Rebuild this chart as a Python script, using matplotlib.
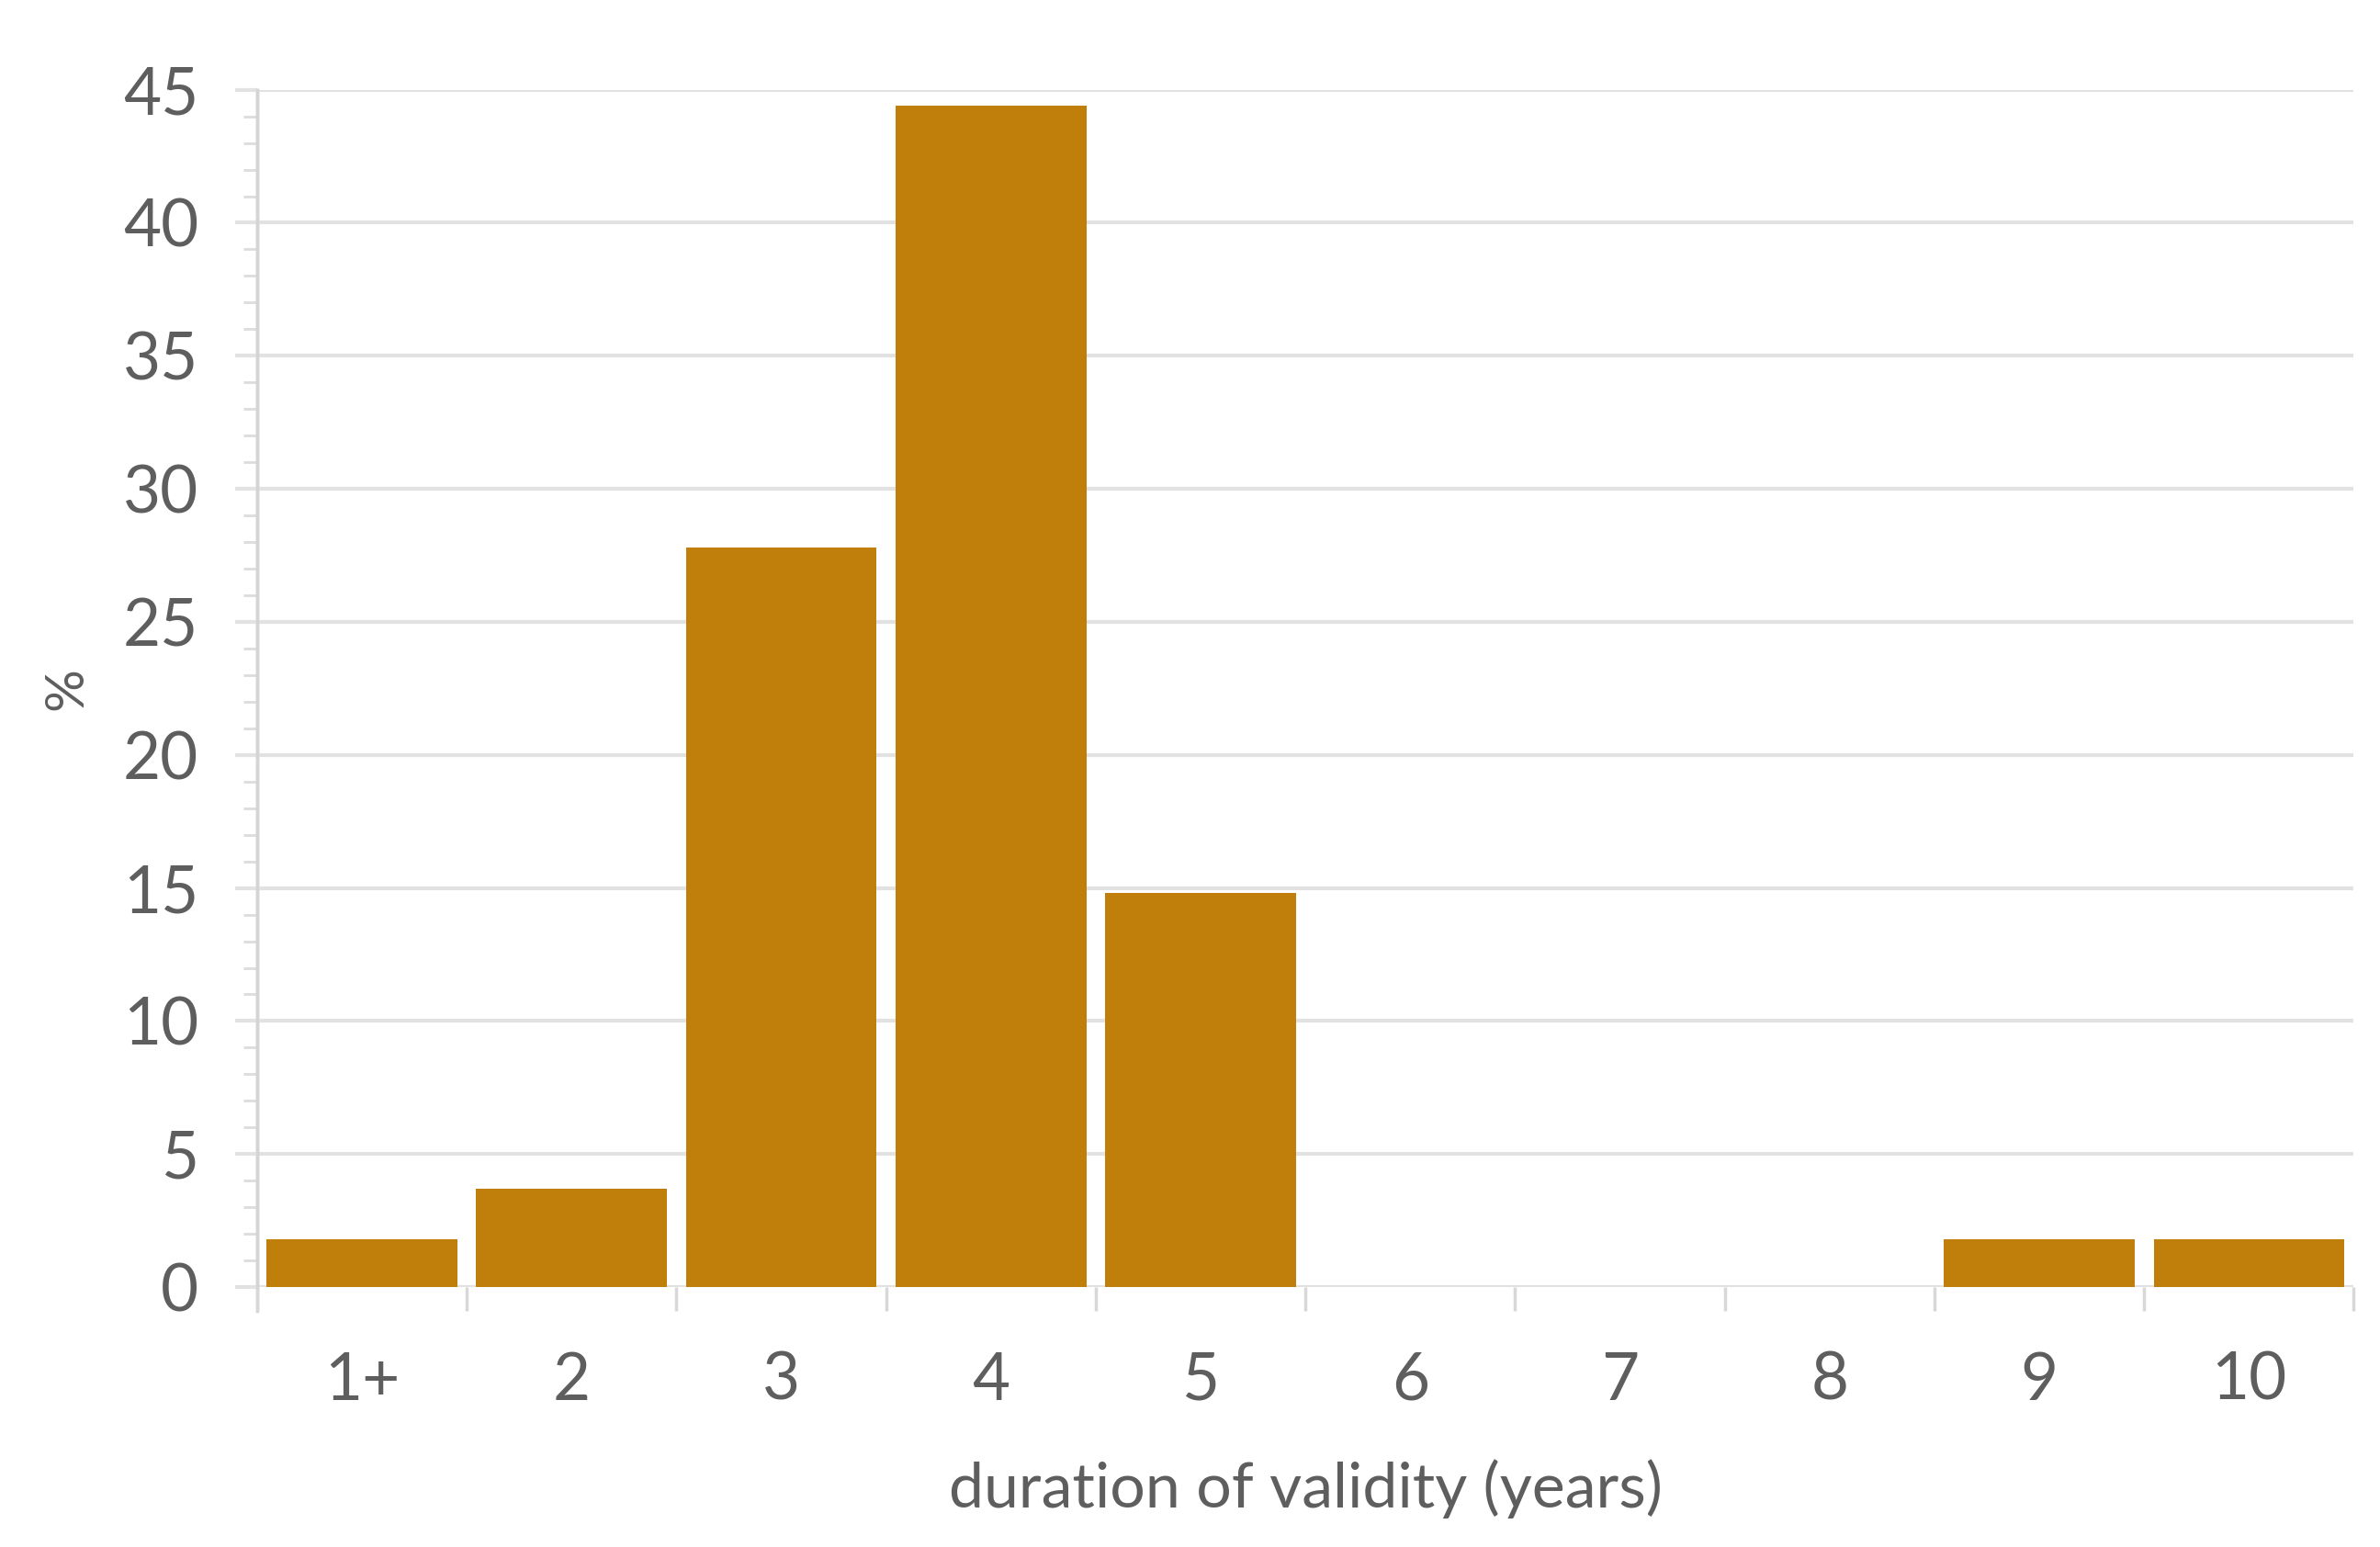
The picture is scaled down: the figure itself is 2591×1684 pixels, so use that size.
import matplotlib
matplotlib.use("Agg")
import matplotlib.pyplot as plt
from matplotlib.ticker import MultipleLocator, FixedLocator, NullFormatter

categories = ["1+", "2", "3", "4", "5", "6", "7", "8", "9", "10"]
values = [1.8, 3.7, 27.8, 44.4, 14.8, 0, 0, 0, 1.8, 1.8]
y_ticks = [0, 5, 10, 15, 20, 25, 30, 35, 40, 45]

plt.rcParams['font.family'] = ['Lato', 'DejaVu Sans']
text_color = "#5e5e5e"
grid_color = "#e2e2e2"
bar_color = "#C07E0B"

fig = plt.figure(figsize=(25.91, 16.84), dpi=100)
ax = fig.add_axes([0.108, 0.168, 0.881, 0.774])

x = list(range(len(categories)))
ax.bar(x, values, width=0.91, color=bar_color, zorder=3)

ax.set_xlim(-0.5, len(categories) - 0.5)
ax.set_ylim(0, 45)

for s in ["top", "right", "bottom"]:
    ax.spines[s].set_visible(False)
ax.spines["left"].set_color("#d4d4d4")
ax.spines["left"].set_linewidth(2.5)
ax.plot([0, 0], [-0.02, 1], transform=ax.transAxes, color="#d4d4d4",
        lw=2.5, clip_on=False, zorder=1)

ax.yaxis.set_major_locator(FixedLocator(y_ticks))
ax.yaxis.set_minor_locator(MultipleLocator(1))
ax.set_yticklabels([str(t) for t in y_ticks])
ax.tick_params(axis="y", which="major", length=17, width=3, color=grid_color,
               labelsize=51, labelcolor=text_color, pad=29)
ax.tick_params(axis="y", which="minor", length=11, width=2, color="#dcdcdc")
ax.yaxis.grid(True, which="major", color=grid_color, linewidth=3, zorder=0)

# x: boundary ticks (major) and centered labels (minor)
bounds = [i - 0.5 for i in range(len(categories) + 1)]
ax.xaxis.set_major_locator(FixedLocator(bounds))
ax.xaxis.set_major_formatter(NullFormatter())
ax.xaxis.set_minor_locator(FixedLocator(x))
ax.set_xticklabels(categories, minor=True)
ax.tick_params(axis="x", which="major", length=19, width=2.5, color="#d8d8d8")
ax.tick_params(axis="x", which="minor", length=0, labelsize=51,
               labelcolor=text_color, pad=50)

ax.set_xlabel("duration of validity (years)", fontsize=49, color=text_color,
              labelpad=38)
ax.set_ylabel("%", fontsize=42, color=text_color, labelpad=25)

fig.savefig("out.png", dpi=100, facecolor="white")
